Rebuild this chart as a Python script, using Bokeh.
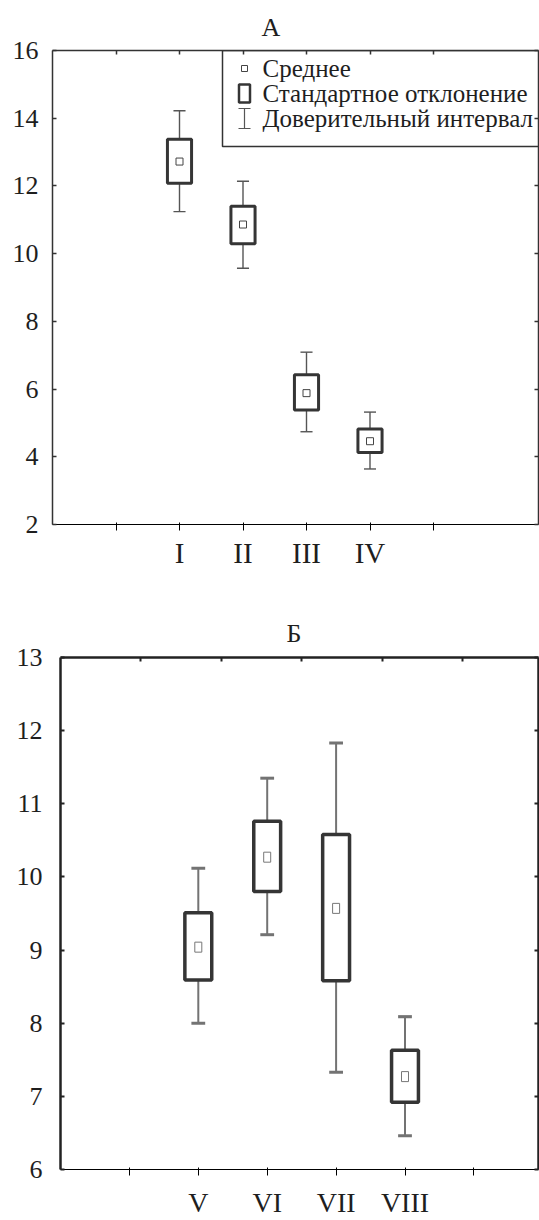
from bokeh.plotting import figure
from bokeh.models import FixedTicker, LinearAxis, Range1d, Title, Spacer
from bokeh.layouts import column, row
from bokeh.core.properties import value
from bokeh.embed import file_html
from bokeh.resources import INLINE

# ---------------- data ----------------
groups_a = ["I", "II", "III", "IV"]
pos_a = [2, 3, 4, 5]
mean_a = [12.72, 10.86, 5.88, 4.46]
sd_lo_a = [12.08, 10.29, 5.38, 4.13]
sd_hi_a = [13.38, 11.40, 6.42, 4.82]
ci_lo_a = [11.24, 9.57, 4.74, 3.64]
ci_hi_a = [14.22, 12.14, 7.09, 5.32]
yticks_a = [2, 4, 6, 8, 10, 12, 14, 16]

groups_b = ["V", "VI", "VII", "VIII"]
pos_b = [2, 3, 4, 5]
mean_b = [9.04, 10.27, 9.57, 7.27]
sd_lo_b = [8.59, 9.80, 8.58, 6.92]
sd_hi_b = [9.51, 10.76, 10.58, 7.63]
ci_lo_b = [8.00, 9.21, 7.33, 6.46]
ci_hi_b = [10.12, 11.35, 11.83, 8.09]
yticks_b = [6, 7, 8, 9, 10, 11, 12, 13]

legend_labels = ["Среднее", "Стандартное отклонение", "Доверительный интервал"]

FONT = "Liberation Serif"


def style_axes(p, xticks, xlabels, yticks, top_ticks, line_w, line_c, tick_w, xfs, yfs, xstand, ystand):
    p.xgrid.visible = False
    p.ygrid.visible = False
    p.outline_line_color = None
    p.xaxis.ticker = FixedTicker(ticks=xticks)
    p.xaxis.major_label_overrides = {t: l for t, l in zip(xticks, xlabels)}
    p.yaxis.ticker = FixedTicker(ticks=yticks)
    for ax, fs, st in ((p.xaxis[0], xfs, xstand), (p.yaxis[0], yfs, ystand)):
        ax.major_label_text_font = FONT
        ax.major_label_text_font_size = fs
        ax.major_label_text_color = "#1e1e1e"
        ax.major_label_standoff = st
    top = LinearAxis(ticker=FixedTicker(ticks=top_ticks))
    right = LinearAxis(ticker=FixedTicker(ticks=yticks))
    p.add_layout(top, "above")
    p.add_layout(right, "right")
    for ax, ticks in ((top, top_ticks), (right, yticks)):
        ax.major_label_overrides = {t: "" for t in ticks}
        ax.major_label_text_font_size = "1px"
        ax.major_label_standoff = 0
    for ax in (p.xaxis[0], p.yaxis[0], top, right):
        ax.axis_line_color = line_c
        ax.axis_line_width = line_w
        ax.major_tick_line_color = line_c
        ax.major_tick_line_width = tick_w
        ax.major_tick_in = 4
        ax.major_tick_out = 0
        ax.minor_tick_line_color = None


def draw_groups(p, pos, mean, lo, hi, clo, chi, box_w, cap_w, box_lw, wh_lw, cap_lw, wh_c, mean_c, mh):
    p.segment(x0=pos, y0=clo, x1=pos, y1=chi, line_color=wh_c, line_width=wh_lw)
    cl = [x - cap_w / 2 for x in pos]
    cr = [x + cap_w / 2 for x in pos]
    p.segment(x0=cl, y0=chi, x1=cr, y1=chi, line_color=wh_c, line_width=cap_lw)
    p.segment(x0=cl, y0=clo, x1=cr, y1=clo, line_color=wh_c, line_width=cap_lw)
    p.vbar(x=pos, width=box_w, bottom=lo, top=hi, fill_color="white",
           line_color="#353535", line_width=box_lw)
    p.rect(x=pos, y=mean, width=7, height=mh, width_units="screen", height_units="screen",
           fill_color="white", line_color=mean_c, line_width=1)


def add_title(p, text, offset, standoff):
    t = Title(text=text, align="left", offset=offset, text_font=FONT, text_font_size="26px",
              text_font_style="normal", text_color="#1e1e1e", standoff=standoff)
    p.add_layout(t, "above")


# ---------------- chart A ----------------
UX_A, UY_A = 63.5, 474 / 14
pA = figure(frame_width=486, frame_height=474, x_range=Range1d(0, 486 / UX_A), y_range=Range1d(2, 16),
            output_backend="svg", toolbar_location=None,
            min_border_left=52, min_border_right=1, min_border_top=50, min_border_bottom=76)
style_axes(pA, [1, 2, 3, 4, 5, 6], [""] + groups_a + [""], yticks_a, [1, 2, 3, 4, 5, 6],
           1.5, "#333333", 1.5, "29px", "26px", 6, 14)
draw_groups(pA, pos_a, mean_a, sd_lo_a, sd_hi_a, ci_lo_a, ci_hi_a,
            0.38, 0.19, 3, 1.4, 1.4, "#555555", "#444444", 7)
add_title(pA, "А", 261 - 52, 17)


def xa(px):
    return (px - 52) / UX_A


def ya(py):
    return 16 - (py - 50) / UY_A


# legend (drawn manually)
pA.quad(left=xa(222), right=xa(560), top=ya(50), bottom=ya(146), fill_color="white",
        line_color="#333333", line_width=1.5)
rows = [ya(68), ya(93), ya(118)]
ix = xa(244)
pA.rect(x=[ix], y=[rows[0]], width=6, height=6, width_units="screen", height_units="screen",
        fill_color="white", line_color="#444444", line_width=1)
pA.rect(x=[ix], y=[rows[1]], width=11, height=18, width_units="screen", height_units="screen",
        fill_color="white", line_color="#353535", line_width=2.5)
pA.segment(x0=[ix], y0=[ya(108)], x1=[ix], y1=[ya(128)], line_color="#555555", line_width=1.2)
pA.segment(x0=[xa(238), xa(238)], y0=[ya(108), ya(128)], x1=[xa(250), xa(250)], y1=[ya(108), ya(128)],
           line_color="#555555", line_width=1.2)
pA.text(x=[xa(262)] * 3, y=rows, text=legend_labels, text_font=value(FONT), text_font_size="25px",
        text_baseline="middle", text_align="left", text_color="#1e1e1e")

# ---------------- chart B ----------------
UX_B, UY_B = 68.9, 512 / 7
pB = figure(frame_width=478, frame_height=512, x_range=Range1d(0, 478 / UX_B), y_range=Range1d(6, 13),
            output_backend="svg", toolbar_location=None,
            min_border_left=52, min_border_right=1, min_border_top=57, min_border_bottom=51)
style_axes(pB, [1, 2, 3, 4, 5, 6], [""] + groups_b + [""], yticks_b, [k * 7 / 6 for k in range(1, 6)],
           2.5, "#222222", 2, "28px", "26px", 11, 18)
draw_groups(pB, pos_b, mean_b, sd_lo_b, sd_hi_b, ci_lo_b, ci_hi_b,
            0.39, 0.2, 3.5, 2, 3, "#737373", "#777777", 10)
add_title(pB, "Б", 286 - 60, 20)

layout = column(pA, row(Spacer(width=8, height=10), pB, spacing=0), spacing=0)
open("out.html", "w").write(file_html(layout, INLINE))
